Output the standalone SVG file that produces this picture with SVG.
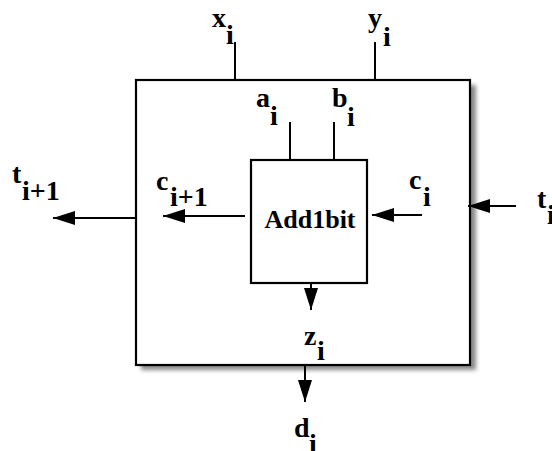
<svg xmlns="http://www.w3.org/2000/svg" width="552" height="451" viewBox="0 0 552 451">
<style>
.box{fill:#fff;stroke:#000;stroke-width:2.2}
.wire{fill:none;stroke:#000;stroke-width:2}
.arr{fill:none;stroke:#000;stroke-width:2;marker-end:url(#ah)}
text{font-family:"Liberation Serif","Times New Roman",serif;font-weight:bold;font-size:28px;fill:#000}
.name{font-size:26px}
</style>
<defs>
<marker id="ah" markerUnits="userSpaceOnUse" markerWidth="24" markerHeight="14" refX="22" refY="7" orient="auto">
<path d="M0,0 L22,7 L0,14 Z" fill="#000"/>
</marker>
<filter id="sh" x="-10%" y="-10%" width="130%" height="130%">
<feGaussianBlur stdDeviation="2"/>
</filter>
</defs>
<g id="outer">
<rect x="141" y="85" width="335" height="285" fill="#888" filter="url(#sh)"/>
<rect class="box" x="136" y="80" width="334" height="285"/>
</g>
<g id="add1bit">
<rect class="box" x="251" y="160" width="116" height="123"/>
<text class="name" x="310" y="228" text-anchor="middle">Add1bit</text>
</g>
<g id="connectors">
<line class="wire" x1="235" y1="42" x2="235" y2="80"/>
<line class="wire" x1="375" y1="42" x2="375" y2="80"/>
<line class="wire" x1="290" y1="122" x2="290" y2="160"/>
<line class="wire" x1="334" y1="122" x2="334" y2="160"/>
<line class="arr" x1="136" y1="218" x2="53" y2="218"/>
<line class="arr" x1="245" y1="216" x2="163" y2="216"/>
<line class="arr" x1="422" y1="215" x2="372" y2="215"/>
<line class="arr" x1="516" y1="206" x2="468" y2="206"/>
<line class="arr" x1="311" y1="283" x2="311" y2="310"/>
<line class="arr" x1="305" y1="365" x2="305" y2="402"/>
</g>
<g id="labels">
<text x="212" y="27">x</text><text x="226" y="44">i</text>
<text x="368" y="27">y</text><text x="383" y="46">i</text>
<text x="256" y="107">a</text><text x="270" y="125">i</text>
<text x="332" y="107">b</text><text x="347" y="126">i</text>
<text x="12" y="183">t</text><text x="22" y="200">i+1</text>
<text x="156" y="190">c</text><text x="170" y="206">i+1</text>
<text x="409" y="189">c</text><text x="423" y="206">i</text>
<text x="537" y="208">t</text><text x="547" y="224">i</text>
<text x="304" y="345">z</text><text x="317" y="360">i</text>
<text x="294" y="437">d</text><text x="309" y="453">i</text>
</g>
</svg>
